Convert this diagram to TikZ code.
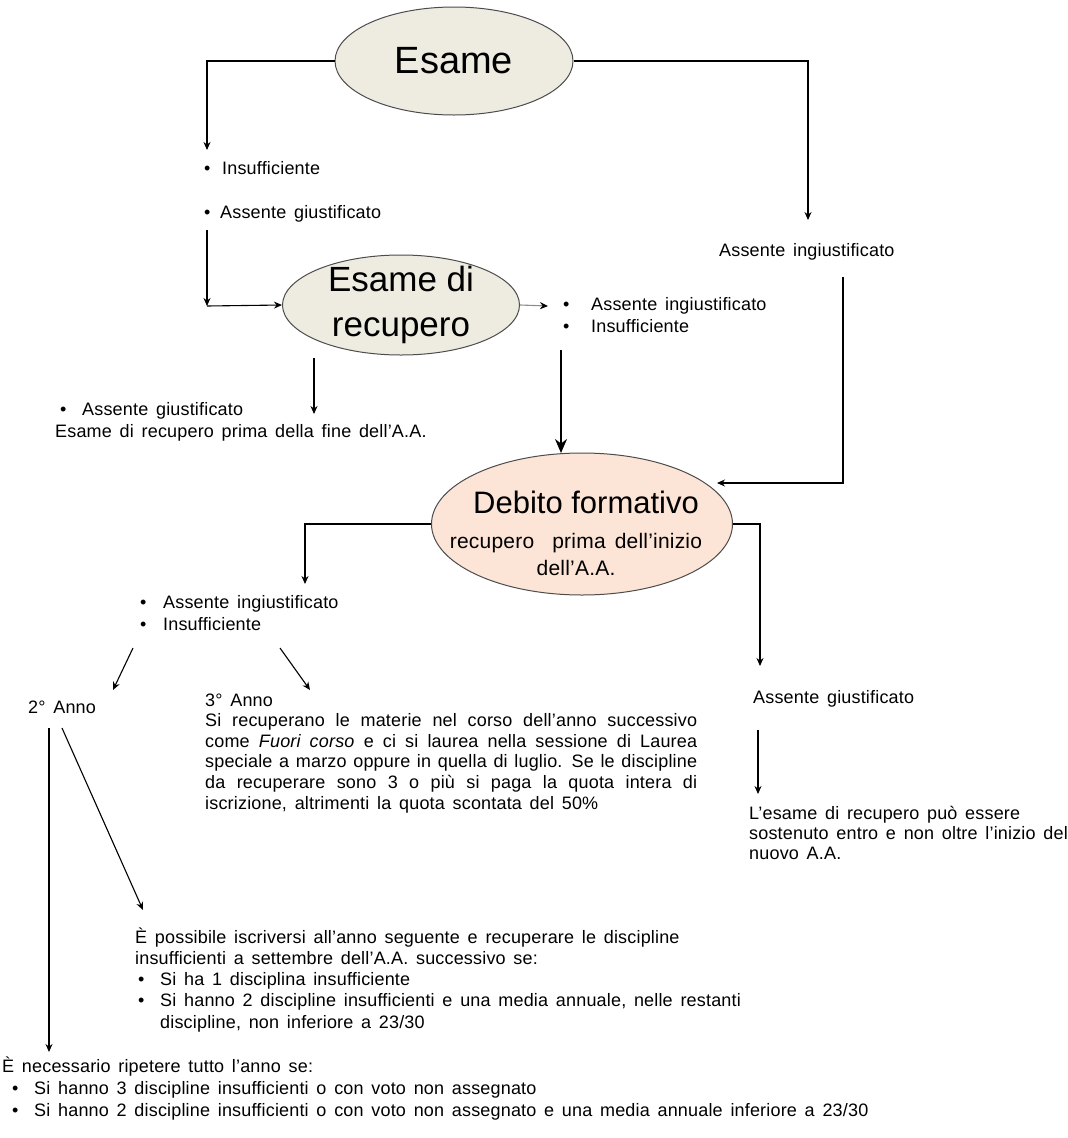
\documentclass[tikz,border=0pt]{standalone}
\usepackage{fontspec}
\setmainfont{Liberation Sans}
\newfontfamily\bodyfont{Liberation Sans}[LetterSpace=1.0,WordSpace=1.5]
\usepackage{xcolor}
\usetikzlibrary{shapes,arrows.meta,calc}
\definecolor{tan}{HTML}{EEECE1}
\definecolor{peach}{HTML}{FCE4D6}
\tikzstyle{conn}=[line width=1.1pt, -{Stealth[length=8pt,width=7pt,color=black]}]
\tikzstyle{bigconn}=[line width=1.6pt, -{Stealth[length=14pt,width=12pt]}]
\tikzstyle{bubble}=[ellipse, draw=black!70, line width=1pt, inner sep=0pt]
\tikzstyle{txt}=[font=\bodyfont\fontsize{18}{21.2}\selectfont, inner sep=0pt, anchor=base west, align=left]
\newcommand{\bul}[1]{\makebox[#1][l]{\textbullet}}

\begin{document}
\begin{tikzpicture}[x=1pt,y=-1pt]
\useasboundingbox (0,0) rectangle (1068,1138);
% bubbles
\node[bubble, fill=tan, minimum width=238pt, minimum height=108pt] (esame) at (454,61) {};
\node[font=\fontsize{38}{40}\selectfont] (esametxt) at (esame) {Esame};
\node[bubble, fill=tan, minimum width=237pt, minimum height=100pt] (recup) at (401,305) {};
\node[font=\fontsize{35}{45}\selectfont, align=center] (recuptxt) at (recup) {Esame di\\recupero};
\node[bubble, fill=peach, minimum width=301pt, minimum height=142pt] (debito) at (582,524) {};
\node[font=\fontsize{31}{34}\selectfont] (debitotxt) at (586,502) {Debito formativo};
\node[font=\bodyfont\fontsize{21}{27}\selectfont, align=center, inner sep=0pt] (debitosub) at (576,554)
  {recupero\ \ prima dell’inizio\\dell’A.A.};

% texts
\node[txt] (insuf) at (204,174) {\bul{18pt}Insufficiente};
\node[txt] (giust) at (204,218) {\bul{16pt}Assente giustificato};
\node[txt] (ingr) at (563,332) {\bul{28pt}Assente ingiustificato\\\bul{28pt}Insufficiente};
\node[txt] (giustr) at (55,437) {\hspace{5pt}\bul{22pt}Assente giustificato\\Esame di recupero prima della fine dell’A.A.};
\node[txt] (ingdx) at (719,256) {Assente ingiustificato};
\node[txt] (ingl) at (140,630) {\bul{23pt}Assente ingiustificato\\\bul{23pt}Insufficiente};
\node[txt] (anno2) at (28,713) {2° Anno};
\node[txt, font=\bodyfont\fontsize{18}{20.6}\selectfont, text width=492pt, align=justify] (anno3) at (205,706) {3° Anno\\
  Si recuperano\ le materie nel corso dell’anno successivo\linebreak
  come \textit{Fuori corso} e ci si laurea nella sessione di Laurea\linebreak
  speciale a marzo oppure in quella di luglio. Se le discipline\linebreak
  da recuperare\ sono 3 o più si paga la quota intera di\linebreak
  iscrizione, altrimenti la quota scontata del 50\%};
\node[txt] (giustdx) at (753,703) {Assente giustificato};
\node[txt, font=\bodyfont\fontsize{18}{20}\selectfont] (esdx) at (749,859) {L’esame di recupero\ può essere\\
  sostenuto entro e non oltre l’inizio del\\
  nuovo\ A.A.};
\node[txt] (poss) at (135,1028) {È possibile iscriversi\ all’anno\ seguente e recuperare\ le discipline\\
  insufficienti\ a settembre\ dell’A.A.\ successivo se:\\
  \hspace{3pt}\bul{22pt}Si ha 1 disciplina insufficiente\\
  \hspace{3pt}\bul{22pt}Si hanno 2 discipline insufficienti\ e una media annuale,\ nelle restanti\\
  \hspace{25pt}discipline, non inferiore\ a 23/30};
\node[txt, font=\bodyfont\fontsize{18}{21.8}\selectfont] (nec) at (2,1116) {È necessario ripetere tutto l’anno se:\\
  \hspace{10pt}\bul{22pt}Si hanno 3 discipline insufficienti o con voto non assegnato\\
  \hspace{10pt}\bul{22pt}Si hanno 2 discipline insufficienti o con voto non assegnato e una media annuale inferiore a 23/30};

% free ends
\coordinate (e1) at (207,150);
\coordinate (s2) at (207,230);
\coordinate (e2) at (207,306);
\coordinate (e3) at (808,220);
\coordinate (e4) at (548,306);
\coordinate (s5) at (314,358);
\coordinate (e5) at (314,414);
\coordinate (s6) at (561,350);
\coordinate (e6) at (561,453);
\coordinate (s7) at (843,277);
\coordinate (e7) at (717,483);
\coordinate (e8) at (305,584);
\coordinate (e9) at (760,666);
\coordinate (s10) at (133,648);
\coordinate (e10) at (113,690);
\coordinate (s11) at (280,648);
\coordinate (e11) at (310,690);
\coordinate (s12) at (49,728);
\coordinate (e12) at (49,1052);
\coordinate (s13) at (62,728);
\coordinate (e13) at (143,910);
\coordinate (s14) at (758,730);
\coordinate (e14) at (758,794);

% connectors
\draw[conn] (esame.west) -| (e1);
\draw[conn] (s2) -- (e2);
\draw[conn] (e2) -- (recup.west);
\draw[conn] (esame.east) -| (e3);
\draw[conn, draw=black!45] (recup.east) -- (e4);
\draw[conn] (s5) -- (e5);
\draw[bigconn] (s6) -- (e6);
\draw[conn] (s7) |- (e7);
\draw[conn] (debito.west) -| (e8);
\draw[conn] (debito.east) -| (e9);
\draw[conn] (s10) -- (e10);
\draw[conn] (s11) -- (e11);
\draw[conn] (s12) -- (e12);
\draw[conn] (s13) -- (e13);
\draw[conn] (s14) -- (e14);
\end{tikzpicture}
\end{document}
